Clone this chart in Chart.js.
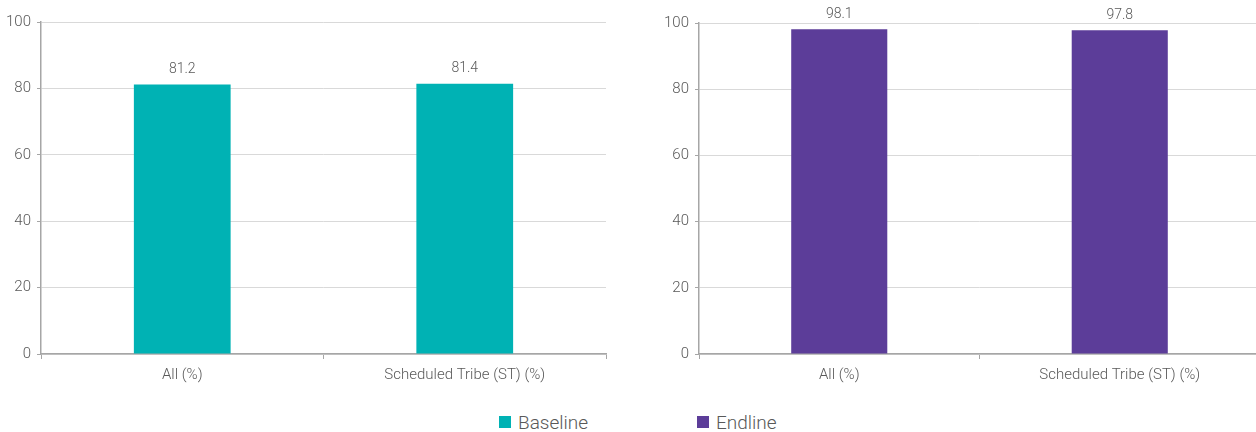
<!DOCTYPE html>
<html>
<head>
<meta charset="utf-8">
<script src="https://cdn.jsdelivr.net/npm/chart.js@4"></script>
<style>
html,body{margin:0;padding:0;background:#fff;}
body{width:1256px;height:432px;position:relative;overflow:hidden;font-family:Roboto,"Open Sans",sans-serif;}
.wrap{position:absolute;top:0;}
#w1{left:0;width:607px;height:395px;}
#w2{left:658px;width:603px;height:395px;}
.legend{position:absolute;top:410px;font-size:19px;color:#595959;font-weight:300;display:flex;align-items:center;height:24px;}
.legend span.sw{display:inline-block;width:12px;height:12px;margin-right:7px;}
</style>
</head>
<body>
<div class="wrap" id="w1"><canvas id="c1"></canvas></div>
<div class="wrap" id="w2"><canvas id="c2"></canvas></div>
<div class="legend" style="left:499px;"><span class="sw" style="background:#00B2B4"></span>Baseline</div>
<div class="legend" style="left:697px;"><span class="sw" style="background:#5C3D99"></span>Endline</div>
<script>
const categories = ["All (%)", "Scheduled Tribe (ST) (%)"];
const baselineValues = [81.2, 81.4];
const endlineValues = [98.1, 97.8];
const yTicks = [0, 20, 40, 60, 80, 100];

const textColor = '#595959';
const fontFam = 'Roboto, "Open Sans", sans-serif';

const labelPlugin = {
  id: 'barLabels',
  afterDatasetsDraw(chart) {
    const ctx = chart.ctx;
    ctx.save();
    ctx.fillStyle = textColor;
    ctx.font = '300 14px ' + fontFam;
    ctx.textAlign = 'center';
    ctx.textBaseline = 'bottom';
    chart.data.datasets.forEach((ds, i) => {
      chart.getDatasetMeta(i).data.forEach((bar, j) => {
        ctx.fillText(ds.data[j].toFixed(1), bar.x, bar.y - 8);
      });
    });
    ctx.restore();
  }
};

function makeChart(id, label, data, color, topPad) {
  return new Chart(document.getElementById(id), {
    type: 'bar',
    data: { labels: categories, datasets: [{ label, data, backgroundColor: color, barPercentage: 0.685, categoryPercentage: 0.5 }] },
    options: {
      responsive: true, maintainAspectRatio: false, animation: false,
      layout: { padding: { top: topPad, right: 1, bottom: 0, left: 0 } },
      plugins: { legend: { display: false }, tooltip: { enabled: false } },
      scales: {
        x: {
          afterFit(s) { s.height = 41; },
          grid: { display: true, drawOnChartArea: false, offset: true, tickLength: 5, tickColor: '#a6a6a6' },
          border: { color: '#a6a6a6', width: 1.5 },
          ticks: { color: textColor, font: { family: fontFam, size: 15, weight: '300' }, padding: 7 }
        },
        y: {
          min: 0, max: 100,
          afterFit(s) { s.width = 41; },
          afterBuildTicks(s) { s.ticks = yTicks.map(v => ({ value: v })); },
          grid: { color: '#d9d9d9', tickLength: 4, tickColor: '#a6a6a6' },
          border: { color: '#a6a6a6', width: 1.5 },
          ticks: { color: textColor, font: { family: fontFam, size: 15, weight: '300' }, padding: 6 }
        }
      }
    },
    plugins: [labelPlugin]
  });
}

makeChart('c1', 'Baseline', baselineValues, '#00B2B4', 22);
makeChart('c2', 'Endline', endlineValues, '#5C3D99', 23);
</script>
</body>
</html>
